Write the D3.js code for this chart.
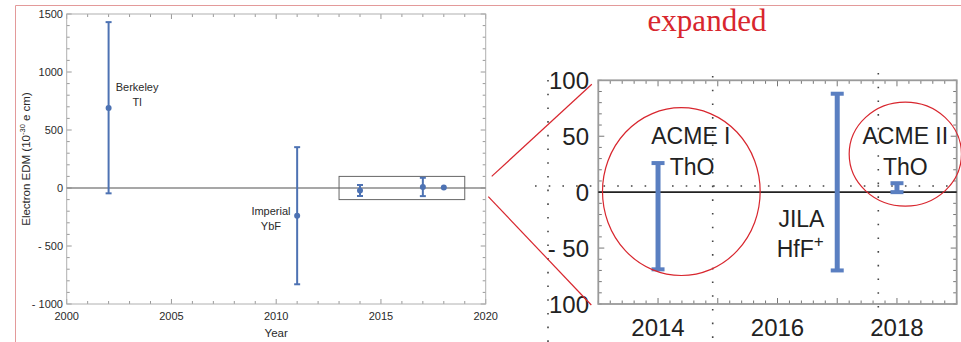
<!DOCTYPE html>
<html>
<head>
<meta charset="utf-8">
<script src="https://cdn.jsdelivr.net/npm/d3@7"></script>
<style>
  body { margin: 0; background: #fff; }
  svg { display: block; font-family: "Liberation Sans", Arial, sans-serif; }
</style>
</head>
<body>
<div id="chart"></div>
<script>
// ===== DATA =====
const years = [2002, 2011, 2014, 2017, 2018];
const centers = [690, -240, -21, 9, 4];
const lows = [-46, -830, -69, -70, 0];
const highs = [1430, 352, 26, 88, 8];

const leftNoteText = ["Berkeley", "Tl", "Imperial", "YbF"];
const leftNoteYear = [2003.36, 2003.36, 2009.75, 2009.75];
const leftNoteValue = [839, 707, -233, -362];

const rightNoteText = ["ACME I", "ThO", "JILA", "HfF", "ACME II", "ThO"];
const rightNoteSup = ["", "", "", "+", "", ""];
const rightNoteYear = [2014.55, 2014.57, 2016.4, 2016.38, 2018.14, 2018.14];
const rightNoteValue = [43, 15.5, -30.8, -58, 43, 15.5];

const leftYTicks = [-1000, -500, 0, 500, 1000, 1500];
const leftXTicks = [2000, 2005, 2010, 2015, 2020];
const rightYTicks = [-100, -50, 0, 50, 100];
const rightXTicks = [2014, 2016, 2018];

// zoom box (years, values)
const boxYears = [2013, 2019];
const boxValues = [-100, 100];

// circles drawn round the ACME points: [year, value, rx years, ry value]
const rings = [[2014.39, 0.5, 1.32, 75], [2018.14, 34, 0.94, 46.5]];

const W = 961, H = 342;
const svg = d3.select("#chart").append("svg").attr("width", W).attr("height", H);
svg.append("rect").attr("width", W).attr("height", H).attr("fill", "#fff");

const fmt = d => d < 0 ? "- " + Math.abs(d) : String(d);

// slide frame (pink lines)
svg.append("line").attr("x1", 15.5).attr("x2", W).attr("y1", 5.5).attr("y2", 5.5)
  .attr("stroke", "#e39a9a").attr("stroke-width", 1);
svg.append("line").attr("x1", 15.5).attr("x2", 15.5).attr("y1", 5.5).attr("y2", H)
  .attr("stroke", "#e39a9a").attr("stroke-width", 1);

// helper: inward ticks on all four sides
function frameTicks(g, x, y, xMajor, xMinor, yMajor, yMinor, color, major, minor) {
  const [x0, x1] = x.range();
  const [y0, y1] = y.range(); // y0 bottom, y1 top
  const t = g.append("g").attr("stroke", color).attr("stroke-width", 1);
  xMinor.forEach(v => {
    const L = xMajor.includes(v) ? major : minor;
    t.append("line").attr("x1", x(v)).attr("x2", x(v)).attr("y1", y0).attr("y2", y0 - L);
    t.append("line").attr("x1", x(v)).attr("x2", x(v)).attr("y1", y1).attr("y2", y1 + L);
  });
  yMinor.forEach(v => {
    const L = yMajor.includes(v) ? major : minor;
    t.append("line").attr("y1", y(v)).attr("y2", y(v)).attr("x1", x0).attr("x2", x0 + L);
    t.append("line").attr("y1", y(v)).attr("y2", y(v)).attr("x1", x1).attr("x2", x1 - L);
  });
}

// ===== LEFT PANEL =====
const xL = d3.scaleLinear().domain([2000, 2020]).range([66.7, 485.7]);
const yL = d3.scaleLinear().domain([-1000, 1500]).range([304, 14]);
const left = svg.append("g");

frameTicks(left, xL, yL, leftXTicks, d3.range(2000, 2021, 1), leftYTicks,
  d3.range(-1000, 1501, 100), "#9a9a9a", 5, 3);

left.append("rect")
  .attr("x", xL(2000)).attr("y", yL(1500))
  .attr("width", xL(2020) - xL(2000)).attr("height", yL(-1000) - yL(1500))
  .attr("fill", "none").attr("stroke", "#b0b0b0").attr("stroke-width", 1);

left.append("line")
  .attr("x1", xL(2000)).attr("x2", xL(2020)).attr("y1", yL(0)).attr("y2", yL(0))
  .attr("stroke", "#8a8a8a").attr("stroke-width", 1.5);

left.selectAll(".ylab").data(leftYTicks).enter().append("text")
  .attr("x", 63).attr("y", d => yL(d)).attr("dy", "0.35em")
  .attr("text-anchor", "end").attr("font-size", 11).attr("fill", "#2a2a2a")
  .text(fmt);

left.selectAll(".xlab").data(leftXTicks).enter().append("text")
  .attr("x", d => xL(d)).attr("y", 320)
  .attr("text-anchor", "middle").attr("font-size", 11).attr("fill", "#2a2a2a")
  .text(d => d);

left.append("text").attr("x", xL(2010)).attr("y", 337)
  .attr("text-anchor", "middle").attr("font-size", 11.5).attr("fill", "#2a2a2a").text("Year");

const yt = left.append("text")
  .attr("transform", `translate(30,${yL(250)}) rotate(-90)`)
  .attr("text-anchor", "middle").attr("font-size", 11.5).attr("fill", "#2a2a2a");
yt.append("tspan").text("Electron EDM (10");
yt.append("tspan").attr("font-size", 7.5).attr("dy", -5).text("-30");
yt.append("tspan").attr("dy", 5).text(" e cm)");

// zoom box
left.append("rect")
  .attr("x", xL(boxYears[0])).attr("y", yL(boxValues[1]))
  .attr("width", xL(boxYears[1]) - xL(boxYears[0]))
  .attr("height", yL(boxValues[0]) - yL(boxValues[1]))
  .attr("fill", "none").attr("stroke", "#666").attr("stroke-width", 1);

const blue = "#4d72b3";
years.forEach((yr, i) => {
  const g = left.append("g").attr("stroke", blue).attr("stroke-width", 2);
  if (highs[i] - lows[i] > 20) {
    g.append("line").attr("x1", xL(yr)).attr("x2", xL(yr))
      .attr("y1", yL(lows[i])).attr("y2", yL(highs[i]));
    [lows[i], highs[i]].forEach(v => {
      g.append("line").attr("x1", xL(yr) - 3).attr("x2", xL(yr) + 3)
        .attr("y1", yL(v)).attr("y2", yL(v));
    });
  }
  left.append("circle").attr("cx", xL(yr)).attr("cy", yL(centers[i]))
    .attr("r", 3).attr("fill", blue);
});

leftNoteText.forEach((t, i) => {
  left.append("text").attr("x", xL(leftNoteYear[i])).attr("y", yL(leftNoteValue[i]))
    .attr("text-anchor", "middle").attr("font-size", 11).attr("fill", "#2a2a2a").text(t);
});

// ===== RIGHT PANEL =====
const xR = d3.scaleLinear().domain(boxYears).range([598.3, 956.7]);
const yR = d3.scaleLinear().domain(boxValues).range([304, 80.3]);
const right = svg.append("g");

// dotted guide lines (slide grid)
const dots = right.append("g").attr("stroke", "#444").attr("stroke-width", 1.6)
  .attr("stroke-dasharray", "1.6 12.1").attr("fill", "none");
dots.append("line").attr("x1", 548).attr("x2", 548).attr("y1", 80).attr("y2", H);
dots.append("line").attr("x1", 712.7).attr("x2", 712.7).attr("y1", 76).attr("y2", H);
dots.append("line").attr("x1", 878.3).attr("x2", 878.3).attr("y1", 73).attr("y2", H);
dots.append("line").attr("x1", 535).attr("x2", 957).attr("y1", 186).attr("y2", 186);

frameTicks(right, xR, yR, rightXTicks.concat([2015, 2017]),
  d3.range(0, 31).map(k => +(2013 + k * 0.2).toFixed(1)), [-50, 0, 50],
  d3.range(-100, 101, 10), "#777", 6, 3.5);

right.append("rect")
  .attr("x", xR(boxYears[0])).attr("y", yR(boxValues[1]))
  .attr("width", xR(boxYears[1]) - xR(boxYears[0]))
  .attr("height", yR(boxValues[0]) - yR(boxValues[1]))
  .attr("fill", "none").attr("stroke", "#9a9a9a").attr("stroke-width", 1.8);

right.append("line")
  .attr("x1", xR(boxYears[0])).attr("x2", xR(boxYears[1])).attr("y1", yR(0)).attr("y2", yR(0))
  .attr("stroke", "#222").attr("stroke-width", 1.6);

svg.append("clipPath").attr("id", "ylabClip").append("rect")
  .attr("x", 548).attr("y", 0).attr("width", 60).attr("height", H);

right.append("g").attr("clip-path", "url(#ylabClip)")
  .selectAll("text").data(rightYTicks).enter().append("text")
  .attr("x", 589).attr("y", d => yR(d)).attr("dy", "0.36em")
  .attr("text-anchor", "end").attr("font-size", 24).attr("fill", "#222")
  .text(fmt);

right.selectAll(".xlabR").data(rightXTicks).enter().append("text")
  .attr("x", d => xR(d)).attr("y", 336)
  .attr("text-anchor", "middle").attr("font-size", 24).attr("fill", "#222").text(d => d);

const blueR = "#5a7fc1";
years.forEach((yr, i) => {
  if (yr < boxYears[0] || yr > boxYears[1]) return;
  const g = right.append("g").attr("stroke", blueR);
  g.append("line").attr("x1", xR(yr)).attr("x2", xR(yr))
    .attr("y1", yR(lows[i])).attr("y2", yR(highs[i])).attr("stroke-width", 5);
  [lows[i], highs[i]].forEach(v => {
    g.append("line").attr("x1", xR(yr) - 6.5).attr("x2", xR(yr) + 6.5)
      .attr("y1", yR(v)).attr("y2", yR(v)).attr("stroke-width", 4);
  });
});

rightNoteText.forEach((t, i) => {
  const tx = right.append("text").attr("x", xR(rightNoteYear[i])).attr("y", yR(rightNoteValue[i]))
    .attr("text-anchor", "middle").attr("font-size", 23).attr("fill", "#222").text(t);
  if (rightNoteSup[i]) {
    tx.append("tspan").attr("font-size", 17).attr("dy", -10).text(rightNoteSup[i]);
  }
});

// red annotation
const red = "#d8262e";
rings.forEach(r => {
  right.append("ellipse")
    .attr("cx", xR(r[0])).attr("cy", yR(r[1]))
    .attr("rx", xR(r[0] + r[2]) - xR(r[0])).attr("ry", yR(0) - yR(r[3]))
    .attr("fill", "none").attr("stroke", red).attr("stroke-width", 1.2);
});

svg.append("line")
  .attr("x1", xL(2020) + 6).attr("y1", yL(boxValues[1]))
  .attr("x2", xR(boxYears[0]) - 6.5).attr("y2", yR(boxValues[1]) + 4)
  .attr("stroke", red).attr("stroke-width", 1.2);
svg.append("line")
  .attr("x1", xL(2020) + 2.6).attr("y1", yL(boxValues[0]) - 3)
  .attr("x2", xR(boxYears[0]) - 7).attr("y2", yR(boxValues[0]) + 1)
  .attr("stroke", red).attr("stroke-width", 1.2);

svg.append("text").attr("x", 707).attr("y", 31)
  .attr("text-anchor", "middle").attr("font-family", "'Liberation Serif', 'Times New Roman', serif")
  .attr("font-size", 31).attr("fill", red).text("expanded");
</script>
</body>
</html>
